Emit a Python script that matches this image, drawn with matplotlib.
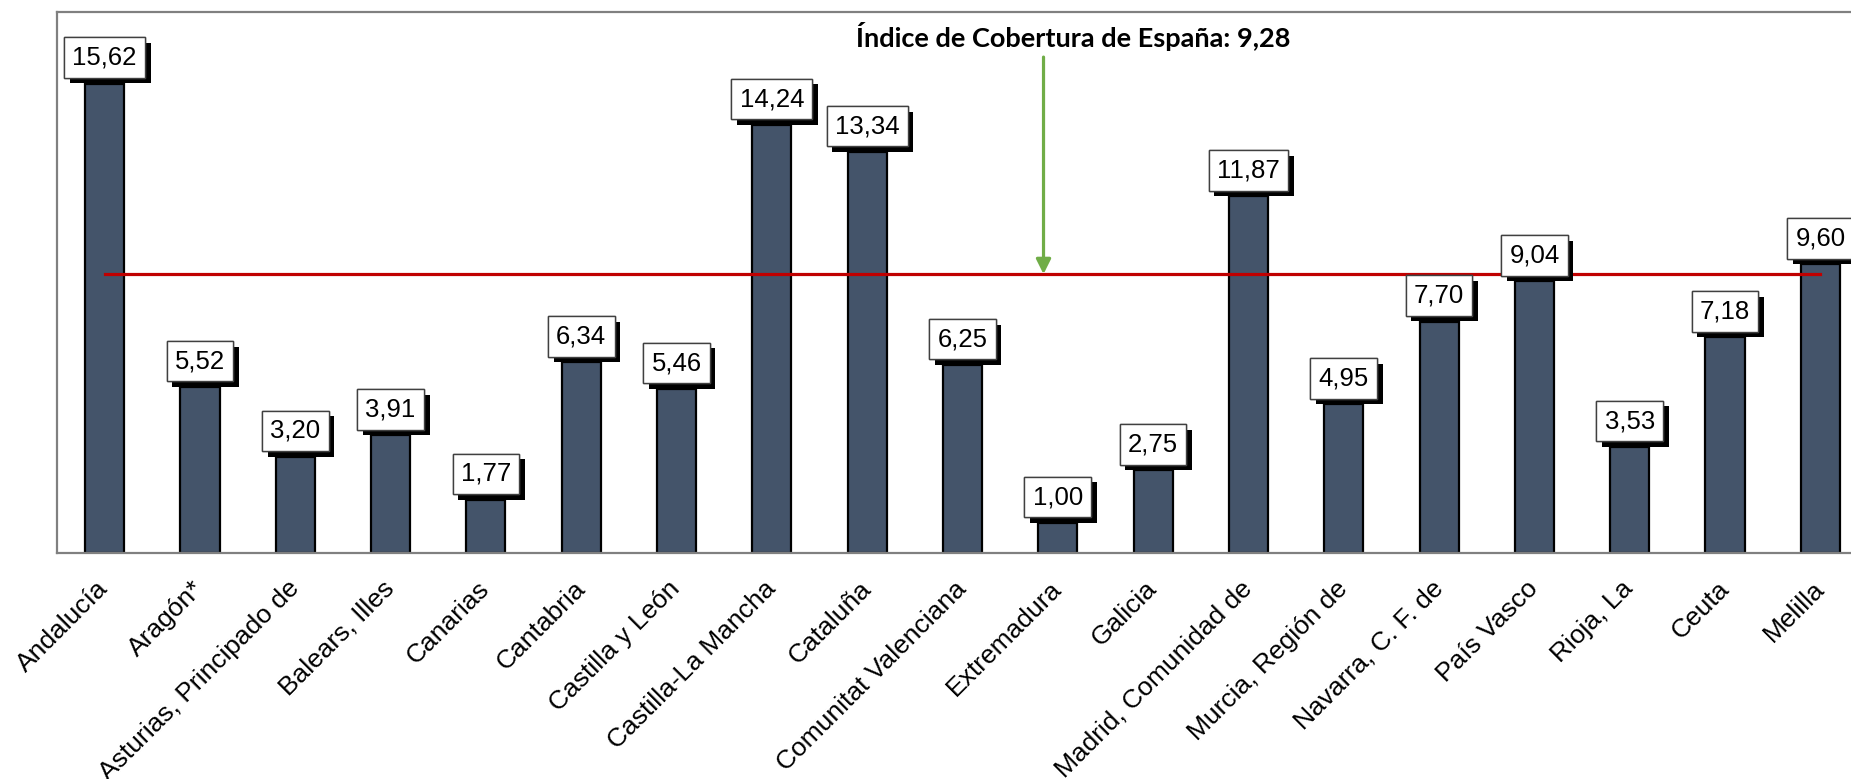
import matplotlib
matplotlib.use("Agg")
import matplotlib.pyplot as plt
import matplotlib.patheffects as pe

# Regions and their coverage index
regions = ["Andalucía", "Aragón*", "Asturias, Principado de", "Balears, Illes", "Canarias",
           "Cantabria", "Castilla y León", "Castilla-La Mancha", "Cataluña",
           "Comunitat Valenciana", "Extremadura", "Galicia", "Madrid, Comunidad de",
           "Murcia, Región de", "Navarra, C. F. de", "País Vasco", "Rioja, La", "Ceuta", "Melilla"]
values = [15.62, 5.52, 3.20, 3.91, 1.77, 6.34, 5.46, 14.24, 13.34, 6.25,
          1.00, 2.75, 11.87, 4.95, 7.70, 9.04, 3.53, 7.18, 9.60]
spain_index = 9.28

plt.rcParams['font.family'] = ['Liberation Sans', 'DejaVu Sans']

fig = plt.figure(figsize=(18.51, 7.79), dpi=100)
# axes run past the right edge, like the original screenshot
ax = fig.add_axes([57 / 1851, 226 / 779, 1811 / 1851, 541 / 779])

x = list(range(len(regions)))
ax.bar(x, values, width=0.41, color="#44546A", edgecolor="black", linewidth=1.6, zorder=2)

# Spain average line
ax.plot([x[0], x[-1]], [spain_index, spain_index], color="#C00000", lw=2.3, zorder=3)

# Value labels with a shadowed box
for xi, v in zip(x, values):
    t = ax.annotate(f"{v:.2f}".replace(".", ","), (xi, v), xytext=(0, 10),
                    textcoords="offset points", ha="center", va="bottom",
                    fontsize=18.5, zorder=5,
                    bbox=dict(boxstyle="square,pad=0.32", fc="white", ec="#404040", lw=1))
    t.get_bbox_patch().set_path_effects([
        pe.withSimplePatchShadow(offset=(4, -4), shadow_rgbFace="black", alpha=1),
        pe.Normal()])

# Annotation and green arrow
ax.annotate("", xy=(9.85, spain_index), xytext=(9.85, 16.5),
            arrowprops=dict(arrowstyle="-|>", color="#70AD47", lw=2.3,
                            mutation_scale=22, shrinkA=0, shrinkB=0), zorder=4)
ax.text(10.16, 17.17, "Índice de Cobertura de España: 9,28", ha="center", va="center",
        fontsize=19.5, fontweight="bold", family=["Lato", "DejaVu Sans"])

ax.set_xlim(-0.5, len(regions) - 0.5)
ax.set_ylim(0, 18)
ax.set_yticks([])
ax.set_xticks(x)
ax.set_xticklabels(regions, rotation=45, ha="right", va="center", rotation_mode="anchor",
                   fontsize=19)
ax.tick_params(axis="x", length=0, pad=23)

for s in ax.spines.values():
    s.set_color("#808080")
    s.set_linewidth(1.6)

plt.savefig("out.png", dpi=100)
